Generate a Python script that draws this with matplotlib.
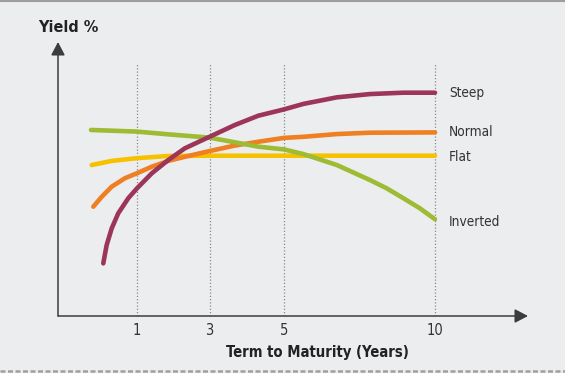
import numpy as np
import matplotlib
matplotlib.use("Agg")
import matplotlib.pyplot as plt
from matplotlib import font_manager as fm

# Yield curve shapes (term in years, yield in arbitrary units)
steep_x = [0.573, 0.616, 0.680, 0.763, 0.890, 1.0, 1.41, 1.86, 2.32, 3.0, 3.68, 4.31,
           5.0, 5.64, 6.75, 7.85, 8.95, 10.0]
steep_y = [1.92, 2.59, 3.20, 3.75, 4.30, 4.66, 5.21, 5.69, 6.12, 6.54, 6.97, 7.31,
           7.54, 7.74, 7.98, 8.10, 8.15, 8.15]

normal_x = [0.447, 0.553, 0.680, 0.848, 1.0, 1.41, 1.86, 2.32, 3.0, 3.68, 4.31, 5.0,
            5.64, 6.75, 7.85, 10.0]
normal_y = [3.99, 4.35, 4.72, 5.03, 5.21, 5.45, 5.66, 5.81, 6.02, 6.22, 6.36, 6.50,
            6.54, 6.64, 6.69, 6.70]

flat_x = [0.427, 0.680, 1.0, 1.86, 3.0, 5.0, 10.0]
flat_y = [5.51, 5.66, 5.76, 5.84, 5.85, 5.85, 5.85]

inverted_x = [0.418, 1.0, 1.86, 3.0, 3.68, 4.31, 5.0, 5.64, 6.75, 7.85, 8.40, 8.95,
              9.50, 10.0]
inverted_y = [6.79, 6.73, 6.63, 6.51, 6.34, 6.18, 6.08, 5.91, 5.51, 4.96, 4.66, 4.30,
              3.93, 3.53]

curve_names = ["Steep", "Normal", "Flat", "Inverted"]
tick_years = [1, 3, 5, 10]
tick_labels = ["1", "3", "5", "10"]

colors = {"Steep": "#9c3558", "Normal": "#ee7f22", "Flat": "#f6c200", "Inverted": "#9dbb33"}

# the term axis is not quite linear in the original drawing
knot_years = np.array([0, 1, 3, 5, 10, 12.5])
knot_pos = np.array([0, 79, 151.5, 226, 377, 470])

def fwd(v):
    return np.interp(v, knot_years, knot_pos)

def inv(p):
    return np.interp(p, knot_pos, knot_years)

# pick a narrow face if there is one
installed = fm.fontManager.ttflist
if any(f.name == "Liberation Sans Narrow" for f in installed):
    plt.rcParams["font.family"] = ["Liberation Sans Narrow", "DejaVu Sans"]
elif any(f.name == "DejaVu Sans" and f.stretch == "condensed" for f in installed):
    plt.rcParams["font.family"] = ["DejaVu Sans"]
    plt.rcParams["font.stretch"] = "condensed"
else:
    plt.rcParams["font.family"] = ["Liberation Sans", "DejaVu Sans"]

W, H = 565, 373
fig = plt.figure(figsize=(W / 100, H / 100), dpi=100)
fig.patch.set_facecolor("#ecedef")

ax = fig.add_axes([58 / W, (H - 316) / H, (528 - 58) / W, (316 - 42) / H])
ax.set_facecolor("none")
ax.set_xscale("function", functions=(fwd, inv))
ax.set_xlim(0, 12.5)
ax.set_ylim(0, 10)

for s in ax.spines.values():
    s.set_visible(False)

# axes with arrow heads
arrow = dict(arrowstyle="-|>,head_length=0.8,head_width=0.42", color="#3c3c3c",
             lw=1.1, mutation_scale=10, shrinkA=0, shrinkB=0)
ax.annotate("", xy=(0, 1), xytext=(0, 0), xycoords="axes fraction", arrowprops=arrow)
ax.annotate("", xy=(1, 0), xytext=(0, 0), xycoords="axes fraction", arrowprops=arrow)

# dotted guides at the labelled terms
ax.vlines(tick_years, 0, 9.23, colors="#8a8a8a", linestyles=(0, (1, 1.6)), lw=0.9, zorder=1)

series = {
    "Steep": (steep_x, steep_y),
    "Normal": (normal_x, normal_y),
    "Flat": (flat_x, flat_y),
    "Inverted": (inverted_x, inverted_y),
}
for name in ["Flat", "Normal", "Inverted", "Steep"]:
    xs, ys = series[name]
    ax.plot(xs, ys, color=colors[name], lw=3.3, solid_capstyle="round",
            solid_joinstyle="round", zorder=3)

label_dy = {"Steep": 0, "Normal": 0, "Flat": -1, "Inverted": -2}
for name in curve_names:
    xs, ys = series[name]
    ax.annotate(name, xy=(xs[-1], ys[-1]), xytext=(10, label_dy[name]),
                textcoords="offset points", ha="left", va="center",
                fontsize=9.8, color="#333333")

ax.set_xticks(tick_years)
ax.set_xticklabels(tick_labels)
ax.set_yticks([])
ax.tick_params(axis="x", length=0, pad=5, labelsize=10.5, labelcolor="#333333")
ax.minorticks_off()

fig.text(317 / W, 1 - 353 / H, "Term to Maturity (Years)", ha="center", va="center",
         fontsize=10.6, fontweight="bold", color="#222222")
fig.text(38 / W, 1 - 27 / H, "Yield %", ha="left", va="center",
         fontsize=11.6, fontweight="bold", color="#222222")

# frame lines at top and bottom
fig.add_artist(plt.Line2D([0, 1], [1 - 0.8 / H, 1 - 0.8 / H], color="#a09c9c", lw=1.5))
fig.add_artist(plt.Line2D([0, 1], [1 - 370.5 / H, 1 - 370.5 / H], color="#a0a0a0",
                          lw=1.8, linestyle=(0, (2, 1))))

fig.savefig("out.png", dpi=100, facecolor=fig.get_facecolor())
